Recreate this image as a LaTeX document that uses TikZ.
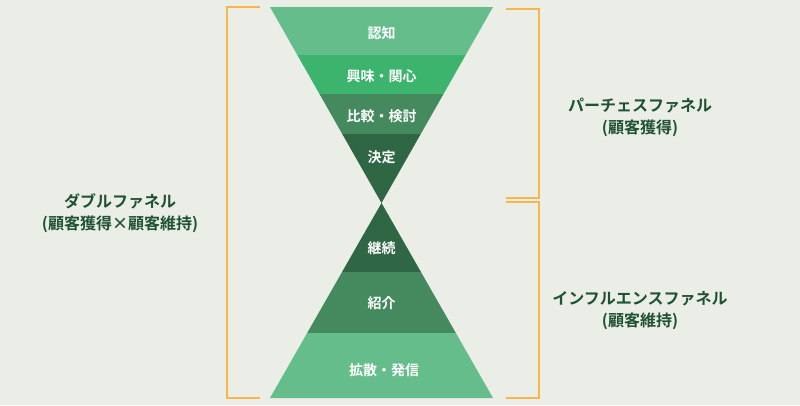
\documentclass[tikz,border=0pt]{standalone}
\usepackage{fontspec}
\newfontfamily\jp{Noto Sans CJK JP Bold}
\definecolor{bgc}{HTML}{EAEEE7}
\definecolor{gLight}{HTML}{66BD8C}
\definecolor{gBright}{HTML}{3DB46D}
\definecolor{gMid}{HTML}{458A5E}
\definecolor{gDark}{HTML}{2F6644}
\definecolor{txc}{HTML}{1F5133}
\definecolor{brc}{HTML}{F7B54A}
\begin{document}
\begin{tikzpicture}[x=1pt,y=-1pt,
 band/.style={white,font=\jp\fontsize{14}{16}\selectfont},
 side/.style={txc,font=\jp\fontsize{16}{22}\selectfont,align=center},
 brk/.style={brc,line width=1.5pt}]
\fill[bgc] (0,0) rectangle (800,405);
\useasboundingbox (0,0) rectangle (800,405);
\begin{scope}
\clip (270,7) -- (493,7) -- (381.5,203) -- cycle;
\fill[gLight] (260,0) rectangle (500,55);
\fill[gBright] (260,55) rectangle (500,94);
\fill[gMid] (260,94) rectangle (500,134);
\fill[gDark] (260,134) rectangle (500,204);
\end{scope}
\begin{scope}
\clip (381.5,203) -- (493,398) -- (270,398) -- cycle;
\fill[gDark] (260,200) rectangle (500,272);
\fill[gMid] (260,272) rectangle (500,333);
\fill[gLight] (260,333) rectangle (500,400);
\end{scope}
\node[band] (n1) at (381.5,33) {認知};
\node[band] (n2) at (381.5,76) {興味・関心};
\node[band] (n3) at (381.5,116) {比較・検討};
\node[band] (n4) at (381.5,157) {決定};
\node[band] (n5) at (381.5,248) {継続};
\node[band] (n6) at (381.5,303) {紹介};
\node[band] (n7) at (384,370) {拡散・発信};
\draw[brk] (260,7) -- (227,7) -- (227,398) -- (260,398);
\draw[brk] (506,9) -- (539,9) -- (539,198) -- (506,198);
\draw[brk] (506,202) -- (539,202) -- (539,398) -- (506,398);
\node[side] (l) at (120,213) {ダブルファネル\\(顧客獲得×顧客維持)};
\node[side] (r1) at (640,117) {パーチェスファネル\\(顧客獲得)};
\node[side] (r2) at (640,311) {インフルエンスファネル\\(顧客維持)};
\end{tikzpicture}
\end{document}
